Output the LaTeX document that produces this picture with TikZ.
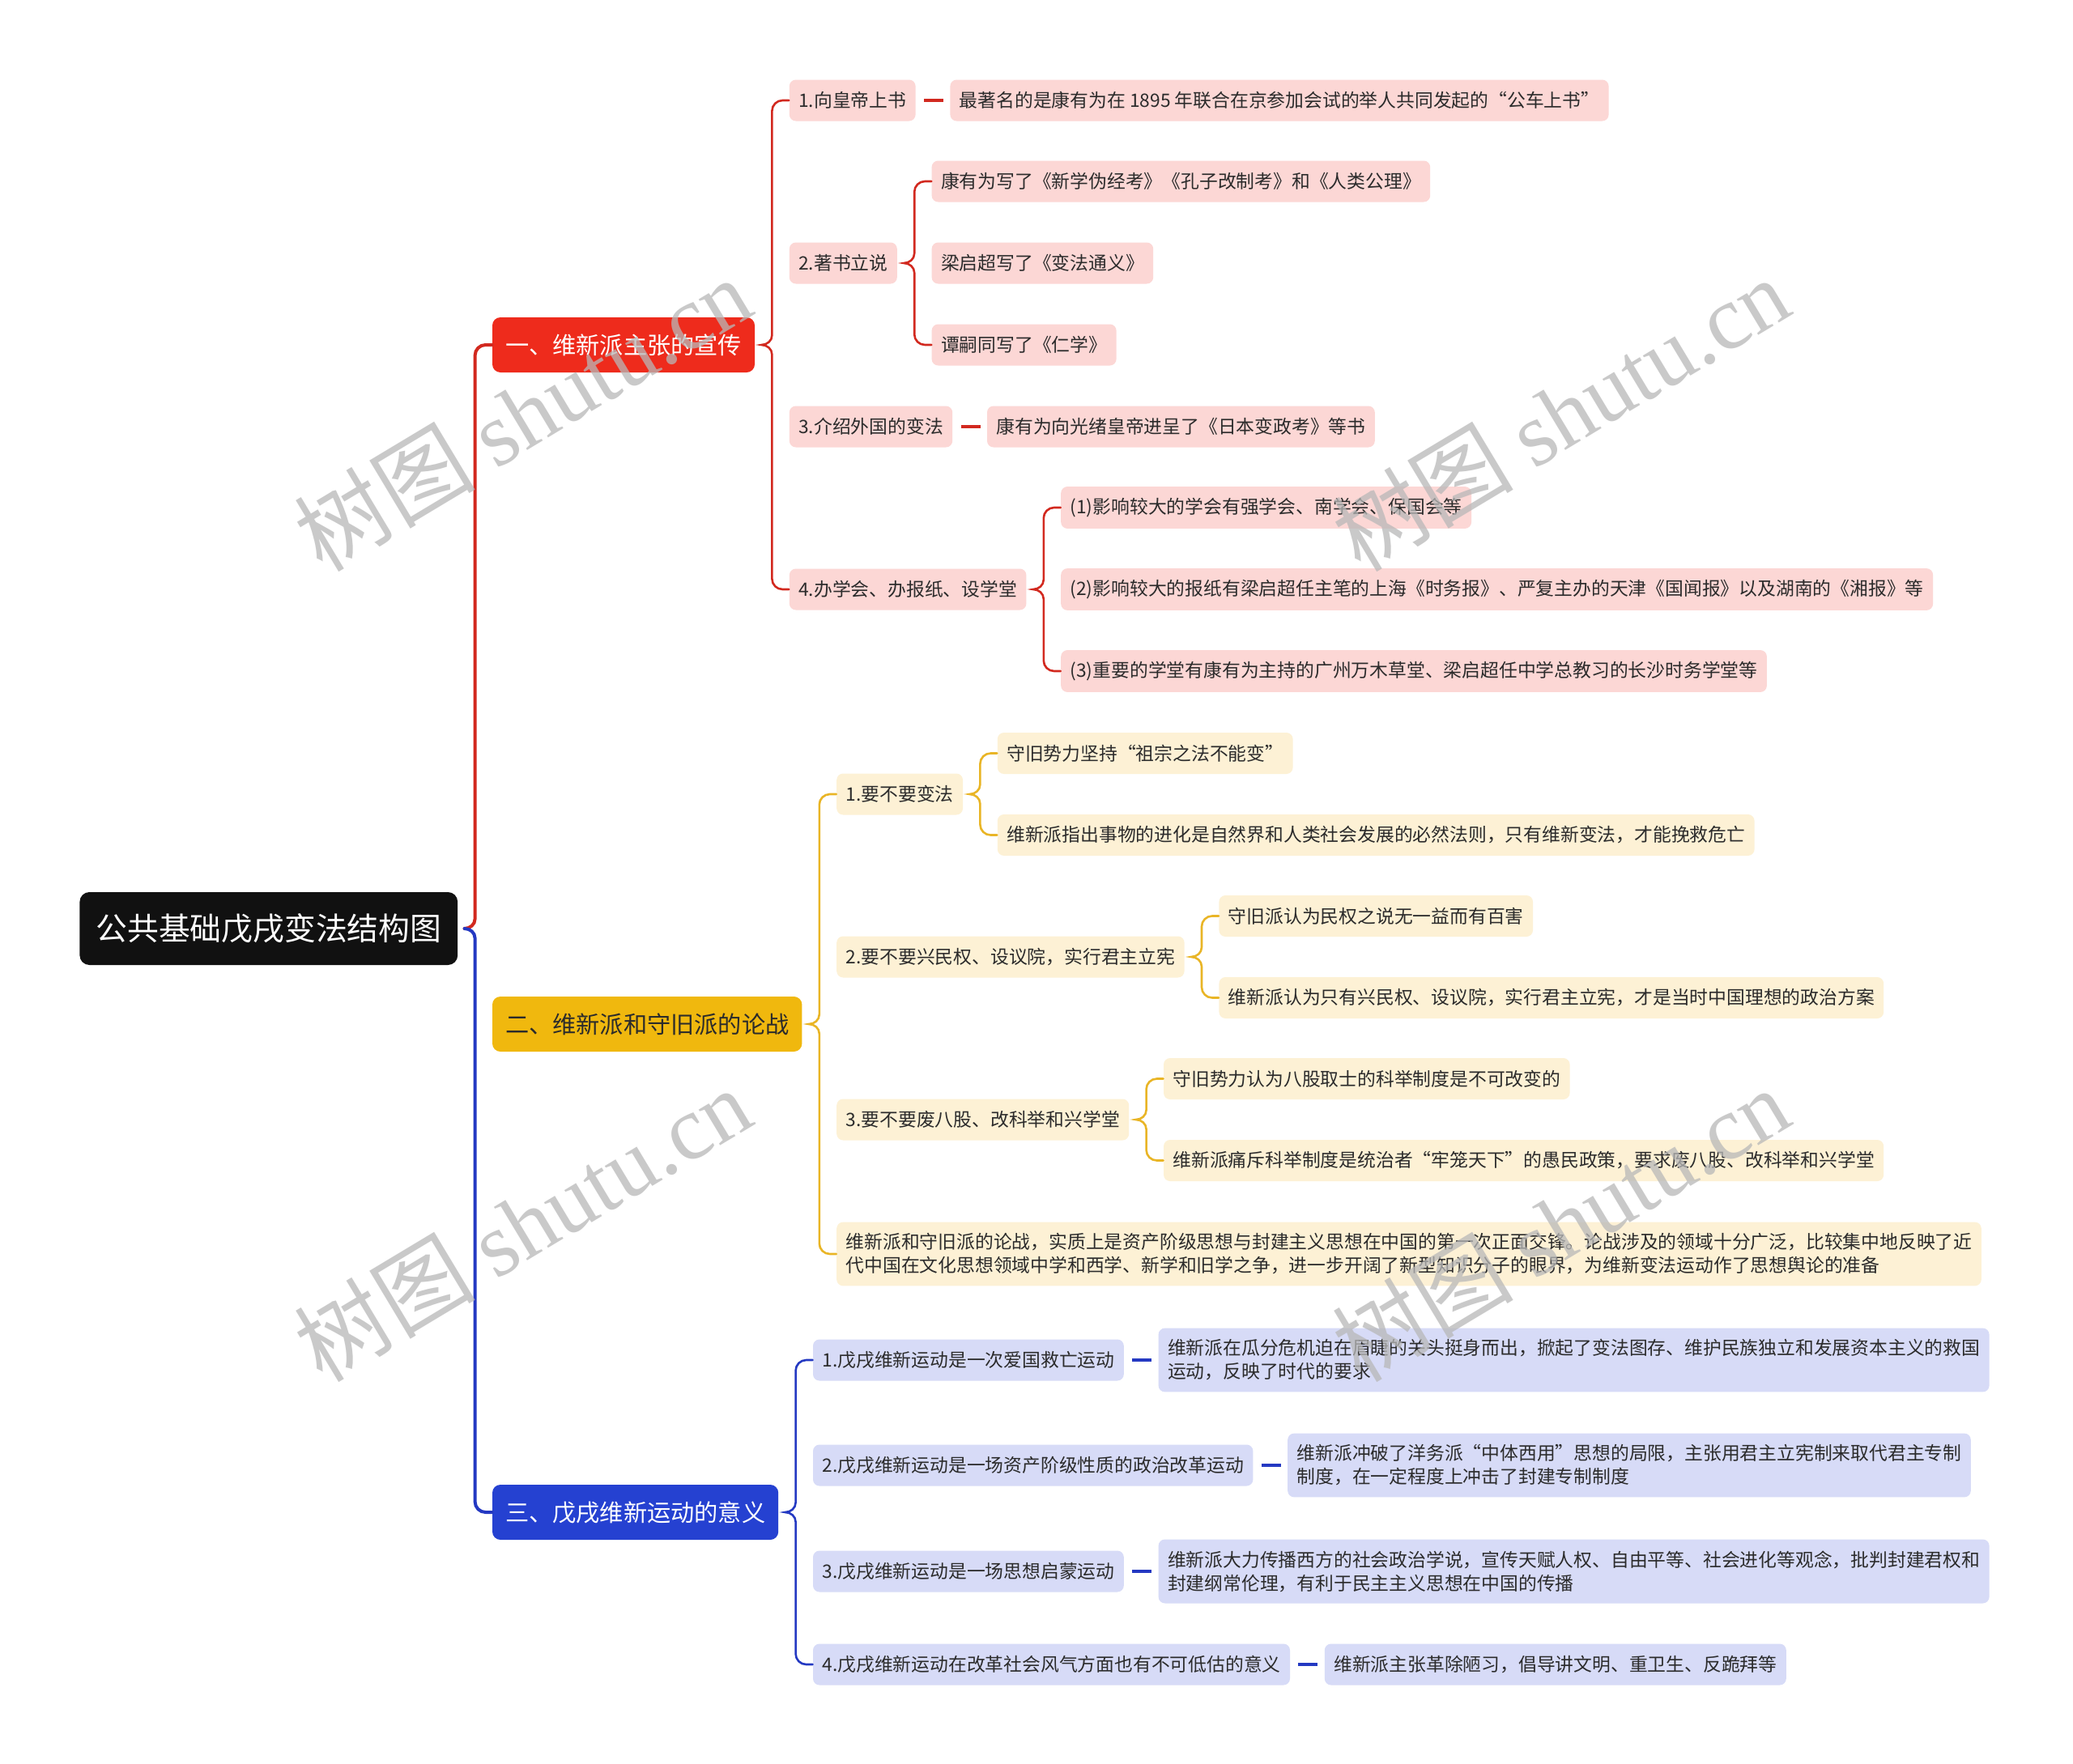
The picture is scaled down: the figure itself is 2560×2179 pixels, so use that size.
\documentclass[tikz,border=0pt]{standalone}
\usepackage{fontspec}
\setmainfont{Noto Sans CJK SC}
\newfontfamily\wmfont{Liberation Serif}
\usetikzlibrary{positioning, calc}
\definecolor{zhuse}{HTML}{111111}
\definecolor{hong}{HTML}{EE2B1C}
\definecolor{hongxian}{HTML}{D2291F}
\definecolor{fenhong}{HTML}{FCD7D5}
\definecolor{huang}{HTML}{F0B80E}
\definecolor{huangxian}{HTML}{E9B526}
\definecolor{danhuang}{HTML}{FDF1D5}
\definecolor{lan}{HTML}{2541D1}
\definecolor{lanxian}{HTML}{2439C2}
\definecolor{danlan}{HTML}{D7DBF7}
\definecolor{zi}{HTML}{2B2B2B}
\tikzset{
  zhuti/.style={rectangle, rounded corners=6pt, fill=zhuse, text=white,
    font=\fontsize{19.4pt}{23pt}\selectfont, inner xsep=10pt, minimum height=45pt},
  fenlei/.style={rectangle, rounded corners=5pt,
    font=\fontsize{14.6pt}{17pt}\selectfont, inner xsep=8pt, minimum height=34pt},
  tiao/.style={rectangle, rounded corners=4pt, text=zi, align=left,
    font=\fontsize{11.4pt}{14.5pt}\selectfont, inner xsep=5.7pt, inner ysep=7pt,
    minimum height=25.5pt},
  hongtiao/.style={tiao, fill=fenhong},
  huangtiao/.style={tiao, fill=danhuang},
  lantiao/.style={tiao, fill=danlan},
  zhixian/.style={line width=2pt, line cap=round},
  zhixi/.style={line width=1.3pt, line cap=round},
  duan/.style={line width=2.4pt, shorten <=5pt, shorten >=4pt},
  shuiyin/.style={font=\fontsize{56pt}{60pt}\selectfont, text=black!28,
    opacity=0.75, rotate=31}
}
% brace from parent #2 to first child #3 and last child #4
\newcommand{\fenzhi}[4]{%
  \draw[#1] (#3.west) -- ++(-4pt,0) to[out=180,in=90] ++(-6.5pt,-6.5pt)
    -- ($(#3.west |- #2.east)+(-10.5pt,6pt)$)
    to[out=-90,in=0] ($(#2.east)+(4pt,0)$)
    to[out=0,in=90] ($(#3.west |- #2.east)+(-10.5pt,-6pt)$)
    -- ($(#4.west)+(-10.5pt,6.5pt)$)
    to[out=-90,in=180] ++(6.5pt,-6.5pt) -- (#4.west);}

\begin{document}
\begin{tikzpicture}[x=0.5pt, y=-0.5pt]
  \useasboundingbox (0,0) rectangle (2560,2179);
  \fill[white] (0,0) rectangle (2560,2179);

  \node[zhuti, anchor=west] (gen) at (98,1147) {公共基础戊戌变法结构图};
  \node[fenlei, fill=hong, text=white, right=21pt of gen, yshift=360.5pt] (xuan) {一、维新派主张的宣传};
  \node[fenlei, fill=huang, text=zi, right=21pt of gen, yshift=-59pt] (lun) {二、维新派和守旧派的论战};
  \node[fenlei, fill=lan, text=white, right=21pt of gen, yshift=-360.5pt] (yi) {三、戊戌维新运动的意义};

  % 一
  \node[hongtiao, right=21pt of xuan, yshift=151pt] (a1) {1.向皇帝上书};
  \node[hongtiao, right=21pt of a1] (a1x) {最著名的是康有为在 1895 年联合在京参加会试的举人共同发起的“公车上书”};
  \node[hongtiao, right=21pt of xuan, yshift=50.5pt] (a2) {2.著书立说};
  \node[hongtiao, right=21pt of a2, yshift=50.5pt] (a21) {康有为写了《新学伪经考》《孔子改制考》和《人类公理》};
  \node[hongtiao, right=21pt of a2] (a22) {梁启超写了《变法通义》};
  \node[hongtiao, right=21pt of a2, yshift=-50.5pt] (a23) {谭嗣同写了《仁学》};
  \node[hongtiao, right=21pt of xuan, yshift=-50.5pt] (a3) {3.介绍外国的变法};
  \node[hongtiao, right=21pt of a3] (a3x) {康有为向光绪皇帝进呈了《日本变政考》等书};
  \node[hongtiao, right=21pt of xuan, yshift=-151pt] (a4) {4.办学会、办报纸、设学堂};
  \node[hongtiao, right=21pt of a4, yshift=50.5pt] (a41) {(1)影响较大的学会有强学会、南学会、保国会等};
  \node[hongtiao, right=21pt of a4] (a42) {(2)影响较大的报纸有梁启超任主笔的上海《时务报》、严复主办的天津《国闻报》以及湖南的《湘报》等};
  \node[hongtiao, right=21pt of a4, yshift=-50.5pt] (a43) {(3)重要的学堂有康有为主持的广州万木草堂、梁启超任中学总教习的长沙时务学堂等};

  % 二
  \node[huangtiao, right=21pt of lun, yshift=142pt] (b1) {1.要不要变法};
  \node[huangtiao, right=21pt of b1, yshift=25.25pt] (b11) {守旧势力坚持“祖宗之法不能变”};
  \node[huangtiao, right=21pt of b1, yshift=-25.25pt] (b12) {维新派指出事物的进化是自然界和人类社会发展的必然法则，只有维新变法，才能挽救危亡};
  \node[huangtiao, right=21pt of lun, yshift=41.5pt] (b2) {2.要不要兴民权、设议院，实行君主立宪};
  \node[huangtiao, right=21pt of b2, yshift=25.25pt] (b21) {守旧派认为民权之说无一益而有百害};
  \node[huangtiao, right=21pt of b2, yshift=-25.25pt] (b22) {维新派认为只有兴民权、设议院，实行君主立宪，才是当时中国理想的政治方案};
  \node[huangtiao, right=21pt of lun, yshift=-59pt] (b3) {3.要不要废八股、改科举和兴学堂};
  \node[huangtiao, right=21pt of b3, yshift=25.25pt] (b31) {守旧势力认为八股取士的科举制度是不可改变的};
  \node[huangtiao, right=21pt of b3, yshift=-25.25pt] (b32) {维新派痛斥科举制度是统治者“牢笼天下”的愚民政策，要求废八股、改科举和兴学堂};
  \node[huangtiao, right=21pt of lun, yshift=-142pt] (b4)
    {维新派和守旧派的论战，实质上是资产阶级思想与封建主义思想在中国的第一次正面交锋。论战涉及的领域十分广泛，比较集中地反映了近\\代中国在文化思想领域中学和西学、新学和旧学之争，进一步开阔了新型知识分子的眼界，为维新变法运动作了思想舆论的准备};

  % 三
  \node[lantiao, right=21pt of yi, yshift=94pt] (c1) {1.戊戌维新运动是一次爱国救亡运动};
  \node[lantiao, right=21pt of c1] (c1x)
    {维新派在瓜分危机迫在眉睫的关头挺身而出，掀起了变法图存、维护民族独立和发展资本主义的救国\\运动，反映了时代的要求};
  \node[lantiao, right=21pt of yi, yshift=29pt] (c2) {2.戊戌维新运动是一场资产阶级性质的政治改革运动};
  \node[lantiao, right=21pt of c2] (c2x)
    {维新派冲破了洋务派“中体西用”思想的局限，主张用君主立宪制来取代君主专制\\制度，在一定程度上冲击了封建专制制度};
  \node[lantiao, right=21pt of yi, yshift=-36.5pt] (c3) {3.戊戌维新运动是一场思想启蒙运动};
  \node[lantiao, right=21pt of c3] (c3x)
    {维新派大力传播西方的社会政治学说，宣传天赋人权、自由平等、社会进化等观念，批判封建君权和\\封建纲常伦理，有利于民主主义思想在中国的传播};
  \node[lantiao, right=21pt of yi, yshift=-94pt] (c4) {4.戊戌维新运动在改革社会风气方面也有不可低估的意义};
  \node[lantiao, right=21pt of c4] (c4x) {维新派主张革除陋习，倡导讲文明、重卫生、反跪拜等};

  % connectors
  \draw[zhixian, hongxian] (xuan.west) -- ++(-4pt,0) to[out=180,in=90] ++(-6.5pt,-6.5pt)
    -- ($(xuan.west |- gen.east)+(-10.5pt,6pt)$) to[out=-90,in=0] ($(gen.east)+(4pt,0)$);
  \draw[zhixian, lanxian] ($(gen.east)+(4pt,0)$) to[out=0,in=90] ($(yi.west |- gen.east)+(-10.5pt,-6pt)$)
    -- ($(yi.west)+(-10.5pt,6.5pt)$) to[out=-90,in=180] ++(6.5pt,-6.5pt) -- (yi.west);

  \fenzhi{zhixi, hongxian}{xuan}{a1}{a4}
  \fenzhi{zhixi, hongxian}{a2}{a21}{a23}
  \fenzhi{zhixi, hongxian}{a4}{a41}{a43}
  \draw[duan, hongxian] (a1) -- (a1x);
  \draw[duan, hongxian] (a3) -- (a3x);

  \fenzhi{zhixi, huangxian}{lun}{b1}{b4}
  \fenzhi{zhixi, huangxian}{b1}{b11}{b12}
  \fenzhi{zhixi, huangxian}{b2}{b21}{b22}
  \fenzhi{zhixi, huangxian}{b3}{b31}{b32}

  \fenzhi{zhixi, lanxian}{yi}{c1}{c4}
  \draw[duan, lanxian] (c1) -- (c1x);
  \draw[duan, lanxian] (c2) -- (c2x);
  \draw[duan, lanxian] (c3) -- (c3x);
  \draw[duan, lanxian] (c4) -- (c4x);

  % watermark
  \node[shuiyin] (sy1) at (645,511) {树图 {\wmfont shutu.cn}};
  \node[shuiyin] (sy2) at (1927,511) {树图 {\wmfont shutu.cn}};
  \node[shuiyin] (sy3) at (645,1512) {树图 {\wmfont shutu.cn}};
  \node[shuiyin] (sy4) at (1927,1512) {树图 {\wmfont shutu.cn}};
\end{tikzpicture}
\end{document}
